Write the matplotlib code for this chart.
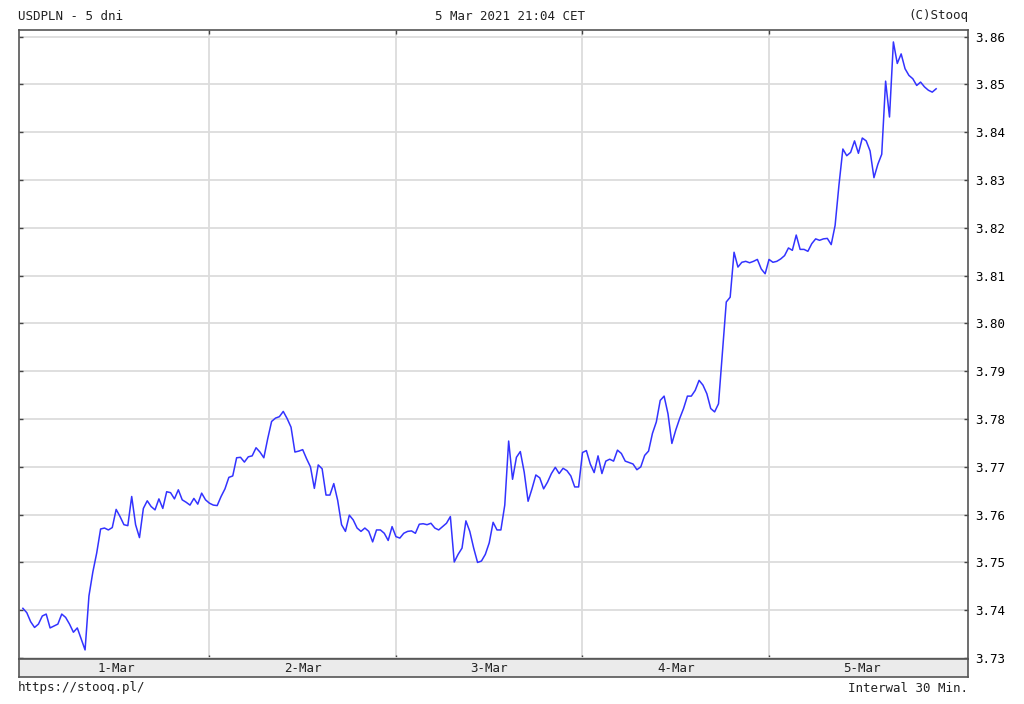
# -*- coding: utf-8 -*-
import numpy as np
import matplotlib
matplotlib.use('Agg')
import matplotlib.pyplot as plt

plt.rcParams['font.family'] = ['DejaVu Sans Mono']

# USDPLN, 30 min quotes, 1-5 Mar 2021
day1 = [3.7404, 3.7395, 3.7376, 3.7364, 3.7371, 3.7388, 3.7392, 3.7363, 3.7367, 3.7371,
        3.7392, 3.7385, 3.7371, 3.7354, 3.7363, 3.7340, 3.7317, 3.7430, 3.7480, 3.7520,
        3.7570, 3.7572, 3.7568, 3.7573, 3.7611, 3.7596, 3.7579, 3.7577, 3.7638, 3.7579,
        3.7552, 3.7613, 3.7629, 3.7617, 3.7610, 3.7633, 3.7613, 3.7648, 3.7646, 3.7633,
        3.7652, 3.7631, 3.7626, 3.7620, 3.7634, 3.7622, 3.7645, 3.7631]
day2 = [3.7624, 3.7620, 3.7619, 3.7638, 3.7654, 3.7678, 3.7681, 3.7719, 3.7720, 3.7710,
        3.7721, 3.7723, 3.7740, 3.7731, 3.7719, 3.7759, 3.7795, 3.7802, 3.7805, 3.7816,
        3.7801, 3.7783, 3.7731, 3.7733, 3.7736, 3.7717, 3.7700, 3.7655, 3.7704, 3.7696,
        3.7641, 3.7641, 3.7665, 3.7630, 3.7579, 3.7565, 3.7599, 3.7589, 3.7572, 3.7565,
        3.7572, 3.7565, 3.7543, 3.7568, 3.7568, 3.7561, 3.7546, 3.7575]
day3 = [3.7554, 3.7551, 3.7561, 3.7565, 3.7566, 3.7561, 3.7580, 3.7581, 3.7579, 3.7582,
        3.7572, 3.7568, 3.7575, 3.7582, 3.7596, 3.7501, 3.7517, 3.7530, 3.7587, 3.7565,
        3.7530, 3.7500, 3.7503, 3.7517, 3.7541, 3.7584, 3.7568, 3.7568, 3.7620, 3.7754,
        3.7674, 3.7720, 3.7732, 3.7689, 3.7628, 3.7654, 3.7683, 3.7677, 3.7654, 3.7668,
        3.7686, 3.7699, 3.7686, 3.7697, 3.7692, 3.7681, 3.7658, 3.7658]
day4 = [3.7730, 3.7734, 3.7706, 3.7688, 3.7723, 3.7686, 3.7712, 3.7716, 3.7712, 3.7735,
        3.7728, 3.7712, 3.7709, 3.7706, 3.7694, 3.7700, 3.7724, 3.7733, 3.7770, 3.7794,
        3.7839, 3.7848, 3.7811, 3.7749, 3.7777, 3.7801, 3.7822, 3.7848, 3.7848, 3.7860,
        3.7881, 3.7871, 3.7853, 3.7822, 3.7815, 3.7832, 3.7940, 3.8045, 3.8055, 3.8149,
        3.8118, 3.8128, 3.8130, 3.8127, 3.8130, 3.8134, 3.8114, 3.8104]
day5 = [3.8134, 3.8128, 3.8130, 3.8135, 3.8142, 3.8158, 3.8153, 3.8185, 3.8155, 3.8155,
        3.8151, 3.8167, 3.8177, 3.8174, 3.8177, 3.8178, 3.8165, 3.8205, 3.8290, 3.8365,
        3.8351, 3.8358, 3.8382, 3.8356, 3.8388, 3.8382, 3.8361, 3.8305, 3.8333, 3.8354,
        3.8507, 3.8432, 3.8589, 3.8544, 3.8564, 3.8533, 3.8519, 3.8512, 3.8498, 3.8505,
        3.8495, 3.8488, 3.8484, 3.8491]

price = np.array(day1 + day2 + day3 + day4 + day5)
hours = np.arange(len(price)) * 0.5          # hours since 1 Mar 00:00
day_labels = ['1-Mar', '2-Mar', '3-Mar', '4-Mar', '5-Mar']
y_ticks = np.round(np.arange(3.73, 3.8601, 0.01), 2)

W, H = 1024, 704
fig = plt.figure(figsize=(W / 100, H / 100), dpi=100)

# main chart area (pixels: x 19..968, y 30..659)
ax = fig.add_axes([19 / W, (H - 659) / H, (968 - 19) / W, (659 - 30) / H])
ax.plot(hours, price, '-', color='#3333ff', linewidth=1.1)
ax.set_xlim(-0.5, 121.6)
ax.set_ylim(3.7298, 3.8614)
ax.set_yticks(y_ticks)
ax.set_yticklabels(['%.2f' % v for v in y_ticks])
ax.set_xticks([24, 48, 72, 96])
ax.set_xticklabels([])
ax.grid(color='#dcdcdc', linewidth=1.3)
ax.set_axisbelow(True)
ax.tick_params(axis='y', left=True, right=True, labelleft=False, labelright=True,
               direction='in', length=3, width=1, color='#444444', labelsize=9, pad=5)
ax.tick_params(axis='x', top=True, bottom=True, direction='in', length=3, width=1,
               color='#444444')
for s in ax.spines.values():
    s.set_color('#555555')
    s.set_linewidth(1.2)

# date band (pixels y 659..677)
band = fig.add_axes([19 / W, (H - 677) / H, (968 - 19) / W, 18 / H])
band.set_facecolor('#ebebeb')
band.set_xlim(-0.5, 121.6)
band.set_ylim(0, 1)
band.set_xticks([])
band.set_yticks([])
for s in band.spines.values():
    s.set_color('#555555')
    s.set_linewidth(1.2)
for i, lab in enumerate(day_labels):
    band.text(i * 24 + 12, 0.45, lab, ha='center', va='center', fontsize=9, color='#222222')

# header / footer texts
fig.text(18 / W, 1 - 16 / H, 'USDPLN - 5 dni', ha='left', va='center', fontsize=9, color='#222222')
fig.text(510 / W, 1 - 16 / H, '5 Mar 2021 21:04 CET', ha='center', va='center', fontsize=9, color='#222222')
fig.text(968 / W, 1 - 16 / H, '(C)Stooq', ha='right', va='center', fontsize=9, color='#222222')
fig.text(18 / W, 1 - 688 / H, 'https://stooq.pl/', ha='left', va='center', fontsize=9, color='#222222')
fig.text(968 / W, 1 - 688 / H, 'Interwal 30 Min.', ha='right', va='center', fontsize=9, color='#222222')

fig.savefig('out.png', dpi=100, facecolor='white')
